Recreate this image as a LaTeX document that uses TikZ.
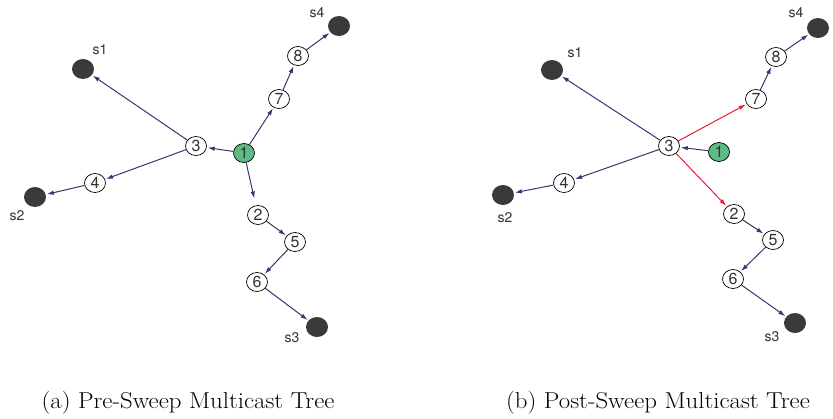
\documentclass[tikz,border=0pt]{standalone}
\usepackage{fontspec}
\setsansfont{TeX Gyre Heros}
\usetikzlibrary{arrows.meta,shapes.geometric}
\definecolor{edgeblue}{HTML}{3A3470}
\definecolor{edgered}{HTML}{E2203C}
\definecolor{sinkgray}{HTML}{3A3A3A}
\definecolor{srcgreen}{HTML}{5DBB84}
\definecolor{txtgray}{HTML}{333333}
\begin{document}
\begin{tikzpicture}[x=1pt,y=-1pt,
  numnode/.style={ellipse,draw=black,line width=0.7pt,fill=white,minimum width=21pt,minimum height=19pt,inner sep=0pt,
    font=\sffamily\fontsize{16}{16}\selectfont,text=txtgray},
  srcnode/.style={numnode,fill=srcgreen},
  sinknode/.style={ellipse,fill=sinkgray,minimum width=22pt,minimum height=20pt,inner sep=0pt},
  sinklabel/.style={font=\sffamily\fontsize{14}{14}\selectfont,text=txtgray,inner sep=0pt},
  link/.style={draw=edgeblue,line width=1pt,-{Latex[length=7pt,width=4.5pt]},shorten >=1pt},
  redlink/.style={link,draw=edgered},
  captext/.style={font=\fontsize{23}{26}\selectfont,inner sep=0pt}]
\useasboundingbox (0,0) rectangle (833,418);
% ---------- left panel ----------
\node[sinknode] (ls1) at (83,69) {};
\node[sinknode] (ls2) at (35,197) {};
\node[sinknode] (ls3) at (317,327) {};
\node[sinknode] (ls4) at (339,26) {};
\node[sinklabel] (lls1) at (100,50) {s1};
\node[sinklabel] (lls2) at (17,216) {s2};
\node[sinklabel] (lls3) at (292,338) {s3};
\node[sinklabel] (lls4) at (317,13) {s4};
\node[srcnode] (l1) at (244,153) {1};
\node[numnode] (l2) at (258,215) {2};
\node[numnode] (l3) at (196,146) {3};
\node[numnode] (l4) at (95,183) {4};
\node[numnode] (l5) at (295,242) {5};
\node[numnode] (l6) at (257,282) {6};
\node[numnode] (l7) at (279,99) {7};
\node[numnode] (l8) at (298,56) {8};
\draw[link] (l1) -- (l3);
\draw[link] (l3) -- (ls1);
\draw[link] (l3) -- (l4);
\draw[link] (l4) -- (ls2);
\draw[link] (l1) -- (l7);
\draw[link] (l7) -- (l8);
\draw[link] (l8) -- (ls4);
\draw[link,shorten >=7pt] (l1) -- (l2);
\draw[link] (l2) -- (l5);
\draw[link] (l5) -- (l6);
\draw[link] (l6) -- (ls3);
% ---------- right panel ----------
\node[sinknode] (rs1) at (552,70) {};
\node[sinknode] (rs2) at (503,195) {};
\node[sinknode] (rs3) at (795,323) {};
\node[sinknode] (rs4) at (818,28) {};
\node[sinklabel] (rls1) at (575,53) {s1};
\node[sinklabel] (rls2) at (505,218) {s2};
\node[sinklabel] (rls3) at (772,337) {s3};
\node[sinklabel] (rls4) at (796,13) {s4};
\node[srcnode] (r1) at (719,152) {1};
\node[numnode] (r2) at (734,214) {2};
\node[numnode] (r3) at (669,146) {3};
\node[numnode] (r4) at (564,183) {4};
\node[numnode] (r5) at (773,240) {5};
\node[numnode] (r6) at (733,279) {6};
\node[numnode] (r7) at (756,99) {7};
\node[numnode] (r8) at (776,57) {8};
\draw[link] (r1) -- (r3);
\draw[link] (r3) -- (rs1);
\draw[link] (r3) -- (r4);
\draw[link] (r4) -- (rs2);
\draw[redlink] (r3) -- (r7);
\draw[link] (r7) -- (r8);
\draw[link] (r8) -- (rs4);
\draw[redlink] (r3) -- (r2);
\draw[link] (r2) -- (r5);
\draw[link] (r5) -- (r6);
\draw[link] (r6) -- (rs3);
% ---------- captions ----------
\node[captext] (capa) at (188,403) {\scalebox{1.08}[1]{(a) Pre-Sweep Multicast Tree}};
\node[captext] (capb) at (658,403) {\scalebox{1.08}[1]{(b) Post-Sweep Multicast Tree}};
\end{tikzpicture}
\end{document}
